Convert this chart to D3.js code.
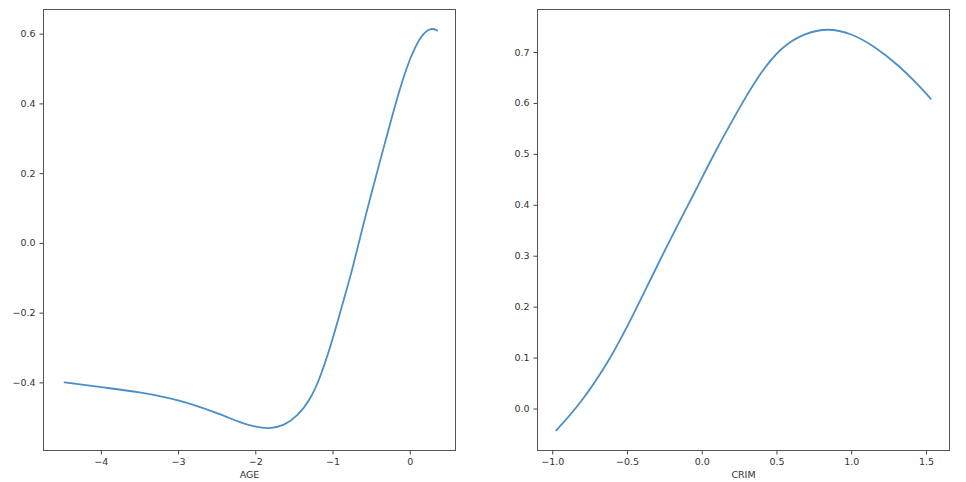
<!DOCTYPE html>
<html><head><meta charset="utf-8">
<script src="https://cdn.jsdelivr.net/npm/d3@7"></script>
<style>body{margin:0;background:#fff}svg{display:block}text{font-family:"DejaVu Sans",sans-serif}</style>
</head><body>
<svg id="c" width="966" height="482"></svg>
<script>
const ageX = [-4.47,-4.0,-3.5,-3.0,-2.5,-2.184,-2.013,-1.82,-1.627,-1.454,-1.283,-1.154,-1.026,-0.940,-0.855,-0.768,-0.682,-0.597,-0.511,-0.382,-0.254,-0.147,-0.039,0.068,0.175,0.283,0.355];
const ageY = [-0.400,-0.414,-0.427,-0.449,-0.487,-0.516,-0.527,-0.534,-0.524,-0.497,-0.448,-0.383,-0.297,-0.230,-0.163,-0.096,-0.020,0.056,0.130,0.237,0.342,0.428,0.504,0.562,0.602,0.617,0.609];
const crimX = [-0.973,-0.81,-0.62,-0.452,-0.317,-0.183,-0.049,0.085,0.242,0.374,0.53,0.687,0.844,1.0,1.156,1.313,1.448,1.532];
const crimY = [-0.043,0.010,0.092,0.187,0.269,0.348,0.423,0.502,0.585,0.652,0.710,0.737,0.747,0.737,0.711,0.675,0.636,0.608];
const ageXTicks = [-4,-3,-2,-1,0];
const ageYTicks = [-0.4,-0.2,0.0,0.2,0.4,0.6];
const crimXTicks = [-1.0,-0.5,0.0,0.5,1.0,1.5];
const crimYTicks = [0.0,0.1,0.2,0.3,0.4,0.5,0.6,0.7];

const svg = d3.select("#c");
const fmt = (d, dec) => (d < 0 ? "\u2212" : "") + Math.abs(d).toFixed(dec);

function panel(opts){
  const {x0,x1,y0,y1,xs,ys,xd,yd,xt,yt,xdec,ydec,label} = opts;
  const x = d3.scaleLinear().domain(xd).range([x0,x1]);
  const y = d3.scaleLinear().domain(yd).range([y1,y0]);
  const g = svg.append("g");
  g.append("path")
    .datum(xs.map((v,i)=>[v,ys[i]]))
    .attr("fill","none").attr("stroke","#4a90c6").attr("stroke-width",1.8)
    .attr("stroke-linecap","round").attr("stroke-linejoin","round")
    .attr("d", d3.line().x(d=>x(d[0])).y(d=>y(d[1])).curve(d3.curveBasis));
  const ax = g.append("g").attr("transform",`translate(0,${y1})`)
    .call(d3.axisBottom(x).tickValues(xt).tickSize(4).tickPadding(4).tickFormat(d=>fmt(d,xdec)));
  const ay = g.append("g").attr("transform",`translate(${x0},0)`)
    .call(d3.axisLeft(y).tickValues(yt).tickSize(4).tickPadding(4).tickFormat(d=>fmt(d,ydec)));
  [ax,ay].forEach(a=>{
    a.select(".domain").remove();
    a.selectAll("line").attr("stroke","#444");
    a.selectAll("text").attr("fill","#333").style("font-size","9.5px").style("font-family","'DejaVu Sans',sans-serif");
  });
  g.append("rect").attr("x",x0).attr("y",y0).attr("width",x1-x0).attr("height",y1-y0)
    .attr("fill","none").attr("stroke","#555").attr("stroke-width",1);
  g.append("text").attr("x",(x0+x1)/2).attr("y",478).attr("text-anchor","middle")
    .attr("fill","#333").style("font-size","9.5px").text(label);
}

panel({x0:43.5,x1:455.5,y0:9.5,y1:450.5,xs:ageX,ys:ageY,xd:[-4.7425,0.5925],yd:[-0.5953,0.6693],
  xt:ageXTicks,yt:ageYTicks,xdec:0,ydec:1,label:"AGE"});
panel({x0:537.5,x1:949.5,y0:9.5,y1:450.5,xs:crimX,ys:crimY,xd:[-1.0985,1.6575],yd:[-0.0824,0.7834],
  xt:crimXTicks,yt:crimYTicks,xdec:1,ydec:1,label:"CRIM"});
</script>
</body></html>
